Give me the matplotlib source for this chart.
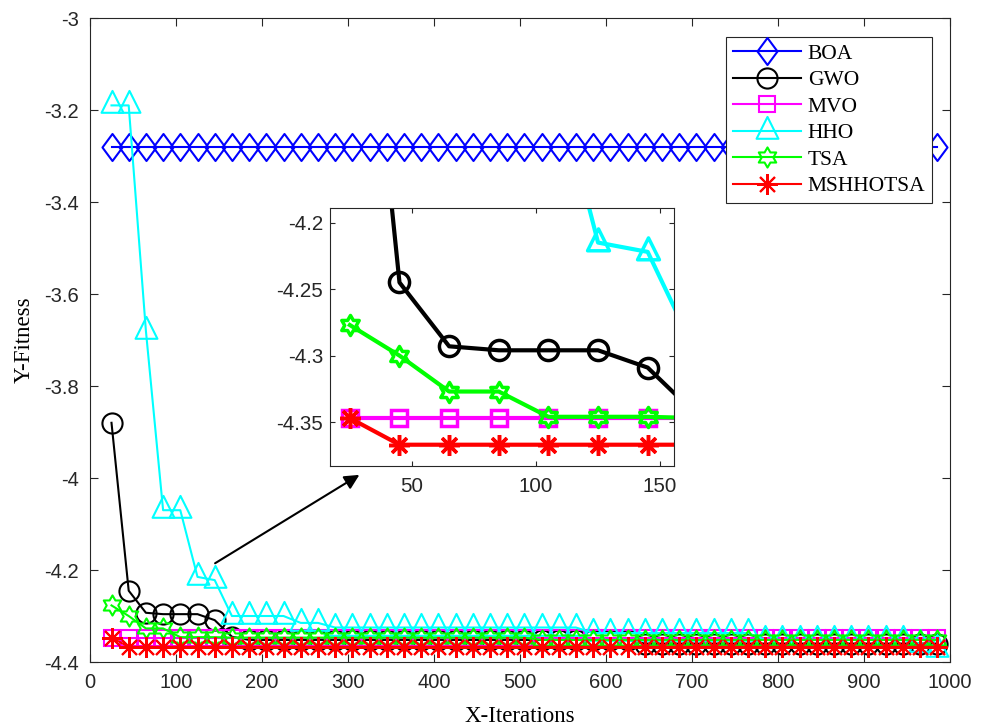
import numpy as np
import matplotlib
matplotlib.use("Agg")
import matplotlib.pyplot as plt
from matplotlib.path import Path
from matplotlib.ticker import FuncFormatter

plt.rcParams['axes.unicode_minus'] = False

# sampled iterations (one marker every 20 iterations)
iterations = list(range(25, 1000, 20))

boa = [-3.28] * 49
gwo = [-3.88, -4.245, -4.293, -4.296, -4.296, -4.296, -4.309, -4.345] + [-4.352] * 23 + [-4.36] * 18
mvo = [-4.347] * 49
hho = ([-3.19, -3.19, -3.68, -4.07, -4.07, -4.215, -4.222]
       + [-4.30] * 4 + [-4.315] * 2 + [-4.325] * 15 + [-4.337] * 10
       + [-4.352] * 9 + [-4.36, -4.372])
tsa = [-4.277, -4.30, -4.327, -4.327] + [-4.346] * 3 + [-4.347] * 18 + [-4.352] * 24
mshhotsa = [-4.347] + [-4.367] * 48

names = ['BOA', 'GWO', 'MVO', 'HHO', 'TSA', 'MSHHOTSA']
colors = ['#0000ff', '#000000', '#ff00ff', '#00ffff', '#00ff00', '#ff0000']

# marker shapes close to the MATLAB ones
diamond = Path([(0, 1), (0.74, 0), (0, -1), (-0.74, 0), (0, 1)], closed=True)
triangle = Path([(0, 1), (-0.75, -0.5), (0.75, -0.5), (0, 1)], closed=True)
ang = np.deg2rad(90 + 30 * np.arange(12))
rad = np.where(np.arange(12) % 2 == 0, 1.0, 0.577)
hexagram = Path(np.c_[rad * np.cos(ang), rad * np.sin(ang)].tolist() + [[0, 1]], closed=True)

markers = [diamond, 'o', 's', triangle, hexagram, (8, 2, 0)]
msizes = [19.5, 14.5, 11, 21, 14.5, 15]
series = [boa, gwo, mvo, hho, tsa, mshhotsa]

axis_col = '#262626'
tick_font = 'Liberation Sans'
label_font = 'Liberation Serif'


def fmt(v, pos):
    return f'{round(v, 4):g}'


def style_axes(ax, size, length, xpad, ypad):
    ax.tick_params(direction='in', top=True, right=True, length=length,
                   width=0.8, colors=axis_col, labelsize=size)
    ax.tick_params(axis='x', pad=xpad)
    ax.tick_params(axis='y', pad=ypad)
    for s in ax.spines.values():
        s.set_color(axis_col)
        s.set_linewidth(0.8)
    for lab in ax.get_xticklabels() + ax.get_yticklabels():
        lab.set_fontfamily(tick_font)
    ax.yaxis.set_major_formatter(FuncFormatter(fmt))


fig = plt.figure(figsize=(9.9, 7.28), dpi=100)
ax = fig.add_axes([90 / 990, 1 - 662 / 728, 860 / 990, 644 / 728])

for y, name, c, m, ms in zip(series, names, colors, markers, msizes):
    ax.plot(iterations, y, color=c, lw=1.5, marker=m, ms=ms, mfc='none',
            mec=c, mew=1.5, label=name)

ax.set_xlim(0, 1000)
ax.set_ylim(-4.4, -3)
ax.set_xticks(np.arange(0, 1001, 100))
ax.set_yticks(np.arange(-4.4, -2.99, 0.2))
style_axes(ax, 14.5, 6, 8, 8)
ax.set_xlabel('X-Iterations', fontsize=16.5, family=label_font, labelpad=10)
ax.set_ylabel('Y-Fitness', fontsize=16.5, family=label_font, labelpad=7)

leg = ax.legend(loc='upper right', bbox_to_anchor=(0.979, 0.970), borderaxespad=0,
                prop={'family': label_font, 'size': 15.5}, numpoints=1,
                handlelength=3.2, handletextpad=0.3, labelspacing=0.3,
                borderpad=0.3, fancybox=False, framealpha=1)
leg.get_frame().set_edgecolor(axis_col)
leg.get_frame().set_linewidth(0.8)

ax.annotate('', xy=(316, -3.99), xytext=(142.7, -4.1885),
            arrowprops=dict(arrowstyle='-|>', color='k', lw=1.5, mutation_scale=22))

# zoomed view of the first iterations
ins = fig.add_axes([330 / 990, 1 - 466 / 728, 344 / 990, 258 / 728])
for y, name, c, m, ms in zip(series, names, colors, markers, msizes):
    ins.plot(iterations, y, color=c, lw=3, marker=m, ms=ms, mfc='none',
             mec=c, mew=2.5)
ins.set_xlim(17, 155.6)
ins.set_ylim(-4.383, -4.189)
ins.set_xticks([50, 100, 150])
ins.set_yticks([-4.35, -4.3, -4.25, -4.2])
style_axes(ins, 14.8, 3.5, 8, 5)

fig.savefig('out.png', dpi=100)
